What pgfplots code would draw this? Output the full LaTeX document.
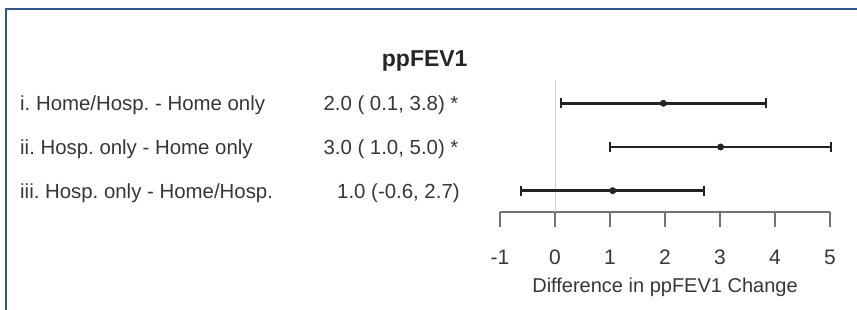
\documentclass[border=0pt]{standalone}
\usepackage{pgfplots}
\pgfplotsset{compat=1.18}
\usepackage{fontspec}
\setmainfont{Liberation Sans}
\frenchspacing
\definecolor{frameblue}{RGB}{47,85,151}
\definecolor{txt}{RGB}{55,55,55}
\definecolor{axgray}{RGB}{115,115,115}
\definecolor{barc}{RGB}{35,35,35}
\begin{document}
\begin{tikzpicture}[x=1pt,y=1pt]
\useasboundingbox (0,0) rectangle (857,309);
\fill[white] (0,0) rectangle (857,309);
\draw[frameblue, line width=2.5pt] (6,-5) -- (6,300) -- (870,300);
\node[anchor=base west, inner sep=0, text=black!85, font=\bfseries\fontsize{23}{27}\selectfont] at (381.7,243) {ppFEV1};
\begin{scope}[every node/.style={anchor=base west, inner sep=0, text=txt, font=\fontsize{20.4}{24}\selectfont}]
\node at (20,198.4) {i. Home/Hosp. - Home only};
\node at (20,154.4) {ii. Hosp. only - Home only};
\node at (20,111.0) {iii. Hosp. only - Home/Hosp.};
\node at (323.3,198.4) {2.0 ( 0.1, 3.8) *};
\node at (323.3,154.4) {3.0 ( 1.0, 5.0) *};
\node at (337,111.0) {1.0 (-0.6, 2.7)};
\end{scope}
\begin{axis}[
  at={(500pt,97.3pt)}, anchor=south west,
  scale only axis, width=330pt, height=131.7pt,
  xmin=-1, xmax=5, ymin=0.519, ymax=3.533,
  axis x line=bottom, axis y line=none,
  x axis line style={-, draw=axgray, line width=2pt},
  xtick={-1,0,1,2,3,4,5}, ytick=\empty,
  tick align=outside, major tick length=15pt,
  xtick style={draw=axgray, line width=2pt},
  /pgf/number format/assume math mode=true,
  xticklabel style={font=\fontsize{21}{25}\selectfont, text=txt, anchor=base, yshift=-37.8pt},
  xlabel={Difference in ppFEV1 Change},
  xlabel style={at={(axis description cs:0.5,0)}, anchor=base, yshift=-80.3pt, font=\fontsize{20}{24}\selectfont, text=txt},
  clip=false,
]
\addplot[draw=black!20, line width=0.8pt] coordinates {(0,0.519) (0,3.533)};
\addplot[only marks, mark=*, mark size=3.2pt, mark options={fill=barc, draw=barc},
  error bars/.cd, x dir=both, x explicit, error mark=|,
  error bar style={line width=2.8pt, draw=barc},
  error mark options={line width=2pt, mark size=5pt, draw=barc}]
  coordinates {
    (1.97,3) += (1.87,0) -= (1.87,0)
    (3.01,2) += (2.01,0) -= (2.01,0)
    (1.05,1) += (1.66,0) -= (1.67,0)
  };
\end{axis}
\end{tikzpicture}
\end{document}
